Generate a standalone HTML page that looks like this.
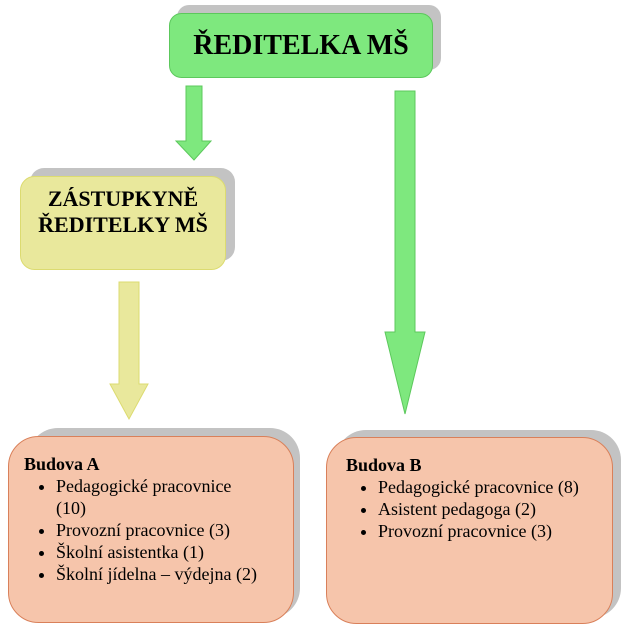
<!DOCTYPE html>
<html><head><meta charset="utf-8"><style>
body{margin:0;width:623px;height:640px;background:#fff;position:relative;overflow:hidden;font-family:"Liberation Serif",serif;color:#000}
.b{position:absolute;box-sizing:border-box}
ul{margin:0;padding-left:32px}
li{line-height:22px;padding-left:0}
</style></head><body>
<svg class="b" style="left:0;top:0" width="623" height="640">
<rect x="177" y="5" width="264" height="65" rx="12" fill="#c3c3c3"/>
<rect x="169.5" y="13.5" width="263" height="64" rx="12" fill="#7ee87e" stroke="#5cc85c"/>
<rect x="30" y="168" width="205" height="93" rx="14" fill="#c3c3c3"/>
<rect x="20.5" y="176.5" width="205" height="93" rx="14" fill="#e9e89c" stroke="#dcdb70"/>
<rect x="28" y="428" width="272" height="190" rx="30" fill="#c3c3c3"/>
<rect x="8.5" y="436.5" width="285" height="186" rx="30" fill="#f6c5ab" stroke="#d9805a"/>
<rect x="336" y="430" width="285" height="188" rx="30" fill="#c3c3c3"/>
<rect x="326.5" y="437.5" width="286" height="186" rx="30" fill="#f6c5ab" stroke="#d9805a"/>
<polygon points="186,86 202,86 202,141 211,141 194,160 176,141 186,141" fill="#7ee87e" stroke="#5cc85c"/>
<polygon points="395,91 415,91 415,332 425,332 405,414 385,332 395,332" fill="#7ee87e" stroke="#5cc85c"/>
<polygon points="119,282 139,282 139,384 148,384 129,419 110,384 119,384" fill="#e9e89c" stroke="#dcdb70"/>
</svg>
<div class="b" style="left:169px;top:26px;width:264px;text-align:center;font-weight:bold;font-size:28px;line-height:40px">ŘEDITELKA MŠ</div>
<div class="b" style="left:14px;top:186px;width:218px;text-align:center;font-weight:bold;font-size:22px;line-height:26px">ZÁSTUPKYNĚ<br>ŘEDITELKY MŠ</div>
<div class="b" style="left:24px;top:453px;width:240px;font-size:18px">
<div style="font-weight:bold;line-height:22px">Budova A</div>
<ul><li>Pedagogické pracovnice (10)</li><li>Provozní pracovnice (3)</li><li>Školní asistentka (1)</li><li>Školní jídelna – výdejna (2)</li></ul></div>
<div class="b" style="left:346px;top:454px;width:262px;font-size:18px">
<div style="font-weight:bold;line-height:22px">Budova B</div>
<ul><li>Pedagogické pracovnice (8)</li><li>Asistent pedagoga (2)</li><li>Provozní pracovnice (3)</li></ul></div>
</body></html>
